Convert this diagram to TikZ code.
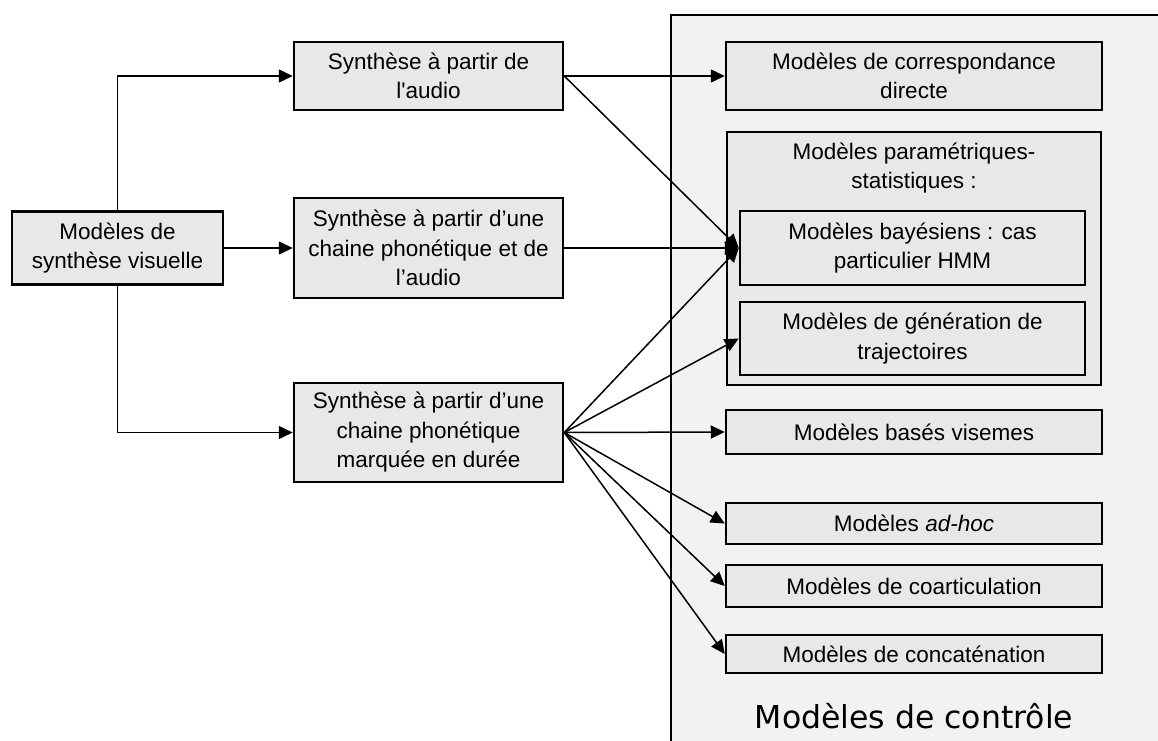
\documentclass[tikz,border=0pt]{standalone}
\usepackage{fontspec}
\setmainfont{Liberation Sans}
\newfontfamily\titlefont{DejaVu Sans}
\usetikzlibrary{arrows.meta}

\definecolor{boxgray}{HTML}{E8E8E8}
\definecolor{panelgray}{HTML}{F2F2F2}

\tikzset{
	modbox/.style={draw=black, line width=2.5pt, fill=boxgray, align=center, inner sep=0pt, font=\fontsize{22.5}{29.5}\selectfont},
	link/.style={line width=1.5pt, -{Triangle[length=14pt,width=13pt]}}
}

\begin{document}
\begin{tikzpicture}[x=1pt,y=-1pt]

\useasboundingbox (0,0) rectangle (1158,740);
\clip (0,0) rectangle (1158,740);

%Panel
\draw[line width=1.5pt, fill=panelgray] (671,15) rectangle (1200,800);
\node[font=\titlefont\fontsize{31.5}{31.5}\selectfont] (ctrl) at (914,716) {Modèles de contrôle};

%Synthesis boxes
\node[modbox, minimum width=211, minimum height=73] (vis) at (117.5,248) {Modèles de\\synthèse visuelle};
\node[modbox, minimum width=269, minimum height=68] (aud) at (428.5,76) {Synthèse à partir de\\l\textquotesingle audio};
\node[modbox, minimum width=269, minimum height=100] (pha) at (428.5,248) {Synthèse à partir d’une\\chaine phonétique et de\\l’audio};
\node[modbox, minimum width=269, minimum height=99] (dur) at (428.5,432.5) {Synthèse à partir d’une\\chaine phonétique\\marquée en durée};

%Control models
\node[modbox, minimum width=376, minimum height=68] (cor) at (914,76) {Modèles de correspondance\\directe};
\node[modbox, minimum width=374, minimum height=253] (par) at (914,258.5) {};
\node[align=center, inner sep=0pt, font=\fontsize{22.5}{29.5}\selectfont] (partitle) at (914,168) {Modèles paramétriques-\\statistiques :};
\node[modbox, minimum width=345, minimum height=74] (bay) at (912.5,248) {Modèles bayésiens : cas\\particulier HMM};
\node[modbox, minimum width=345, minimum height=73] (tra) at (912.5,338.5) {Modèles de génération de\\trajectoires};
\node[modbox, minimum width=376, minimum height=44] (vim) at (914,432) {Modèles basés visemes};
\node[modbox, minimum width=376, minimum height=41] (adh) at (914,523.5) {Modèles \textit{ad-hoc}};
\node[modbox, minimum width=376, minimum height=42] (coa) at (914,586) {Modèles de coarticulation};
\node[modbox, minimum width=376, minimum height=38] (con) at (914,654) {Modèles de concaténation};

%Arrows
\draw[link] (vis.north) |- (aud.west);
\draw[link] (vis.east) -- (pha.west);
\draw[link] (vis.south) |- (dur.west);

\draw[link] (aud.east) -- (cor.west);
\draw[link] (aud.east) -- (bay.west);
\draw[link] (pha.east) -- (bay.west);

\foreach \target in {bay, tra, vim, adh, coa, con}
{
	\draw[link] (dur.east) -- (\target.west);
}

\end{tikzpicture}
\end{document}
